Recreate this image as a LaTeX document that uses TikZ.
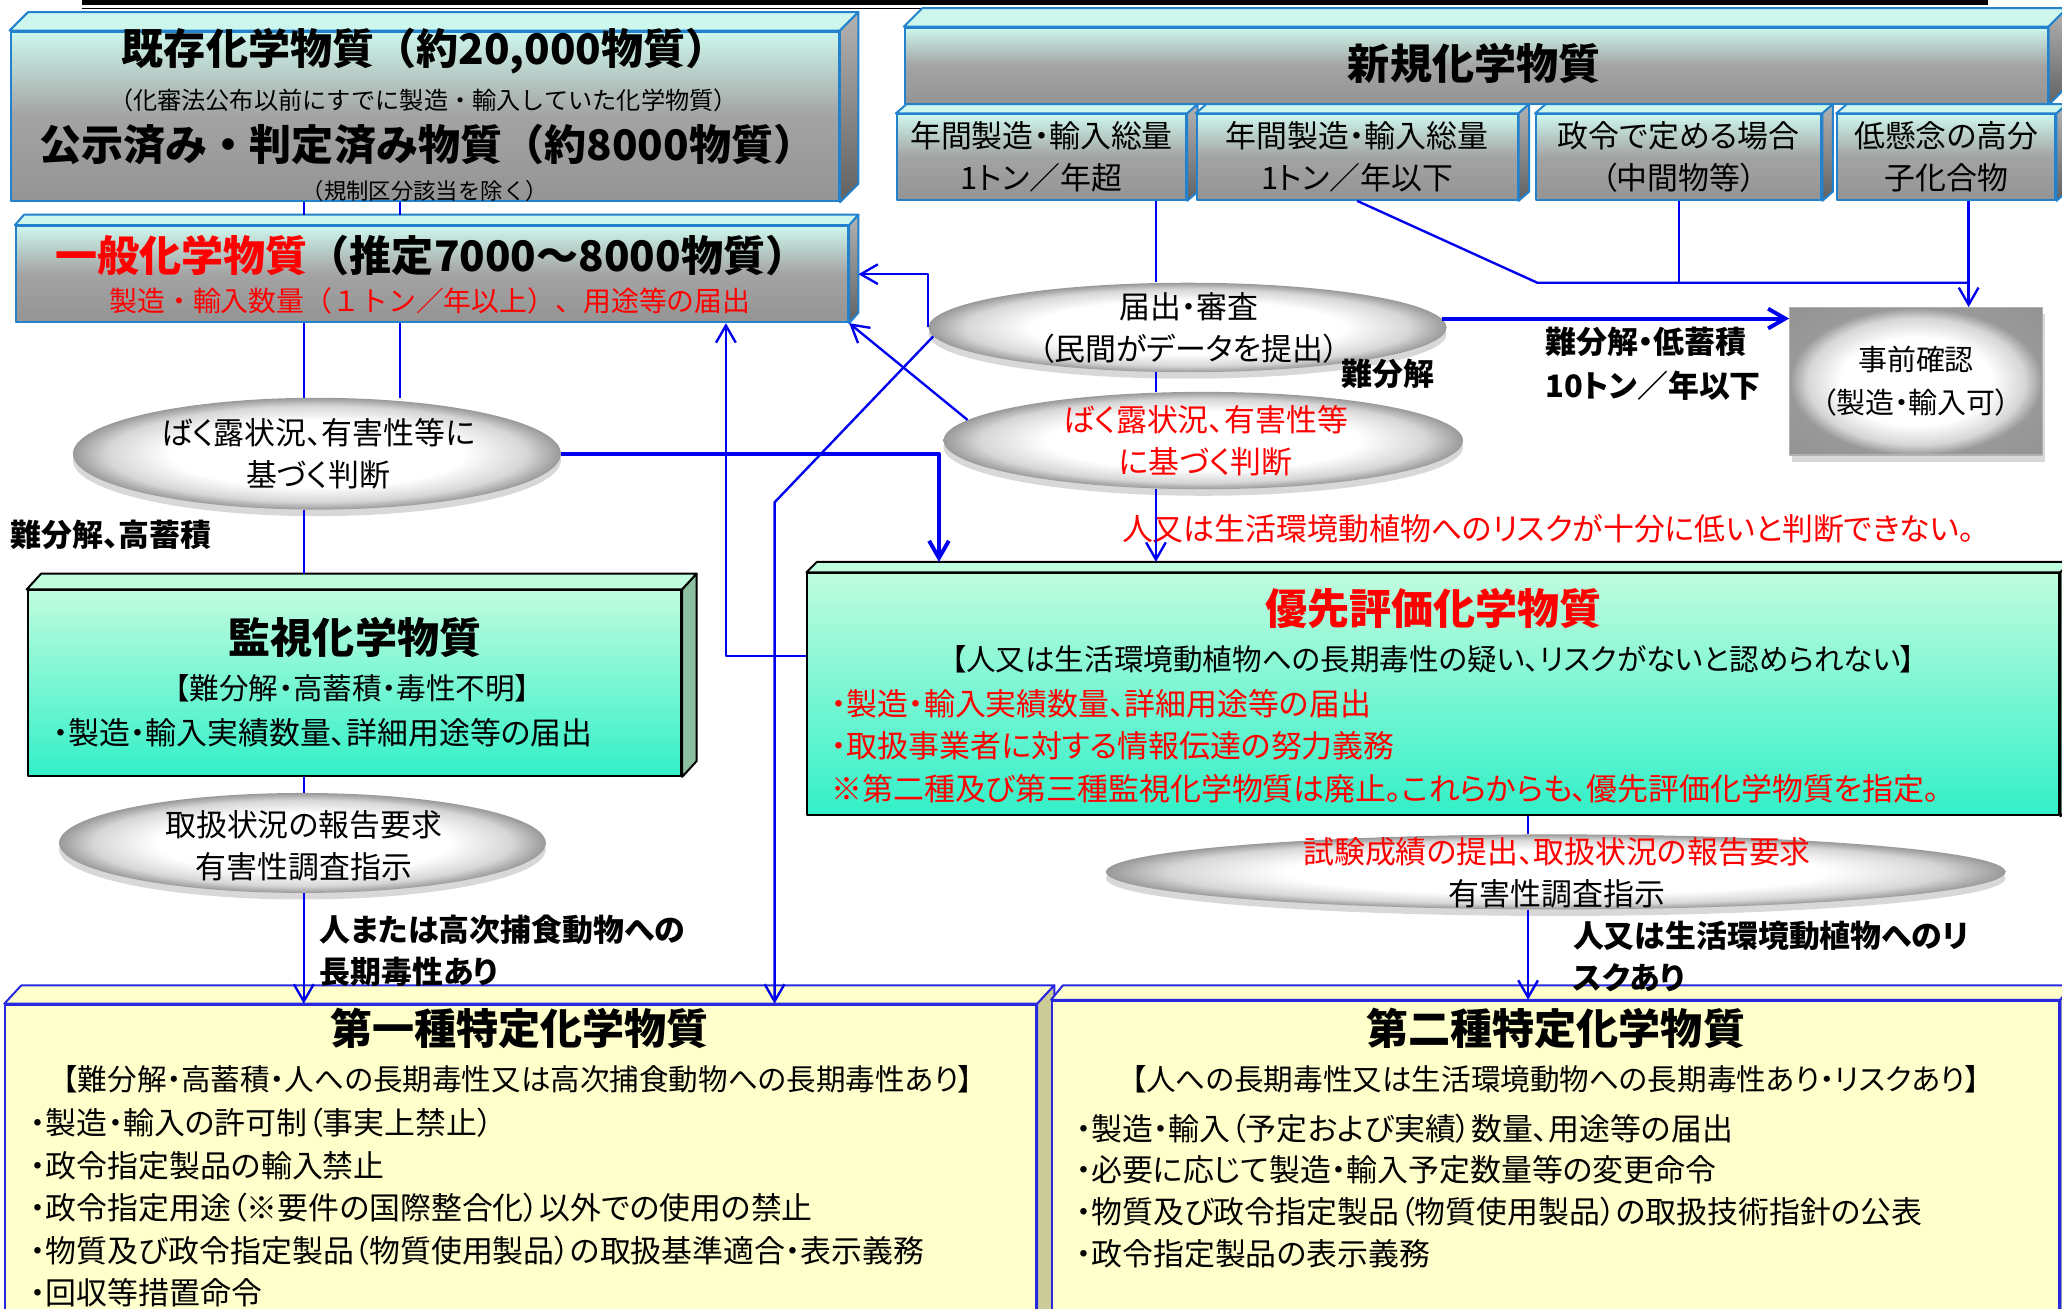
\documentclass[tikz,border=0pt]{standalone}
\usepackage{fontspec}
\setmainfont{Noto Sans CJK JP}[RawFeature=+palt]
\newfontfamily\fwfont{Noto Sans CJK JP}
\usetikzlibrary{arrows.meta,shapes.geometric,shadows}
\definecolor{boxblue}{RGB}{35,130,205}
\definecolor{linkblue}{RGB}{0,0,240}
\definecolor{mintlt}{RGB}{205,246,236}
\definecolor{greenlt}{RGB}{192,252,222}
\definecolor{greendk}{RGB}{50,240,200}
\definecolor{gside}{RGB}{140,190,160}
\definecolor{yellowlt}{RGB}{255,255,204}
\definecolor{yside}{RGB}{204,204,153}
\definecolor{yborder}{RGB}{40,40,225}
\pgfdeclareradialshading{silver}{\pgfpoint{0bp}{0bp}}{color(0bp)=(white); color(15bp)=(white);
  color(21.5bp)=(black!16); color(25bp)=(black!40); color(50bp)=(black!46)}
% top and side faces of a box node: name, dx, dy, style prefix
\newcommand{\boxfaces}[4]{%
  \filldraw[#4top] (#1.north west) -- ++(#2,#3) -- ([shift={(#2,#3)}]#1.north east) -- (#1.north east) -- cycle;
  \filldraw[#4side] (#1.north east) -- ++(#2,#3) -- ([shift={(#2,#3)}]#1.south east) -- (#1.south east) -- cycle;
  \coordinate (#1-top) at ([shift={(#2,#3)}]#1.north);}
\begin{document}
\begin{tikzpicture}[x=1pt,y=-1pt,line join=round,
  graybox/.style={draw=boxblue,line width=1.5pt,top color=mintlt,bottom color=black!42,middle color=black!36,inner sep=0},
  graytop/.style={fill=mintlt,draw=boxblue,line width=1.5pt},
  grayside/.style={top color=black!30,bottom color=black!62,draw=boxblue,line width=1.5pt},
  greenbox/.style={draw=black,line width=1.5pt,top color=greenlt,bottom color=greendk,inner sep=0},
  greentop/.style={fill=greenlt,draw=black,line width=1.5pt},
  greenside/.style={fill=gside,draw=black,line width=1.5pt},
  yelbox/.style={draw=yborder,line width=1.5pt,fill=yellowlt,inner sep=0},
  yeltop/.style={fill=yellowlt,draw=yborder,line width=1.5pt},
  yelside/.style={fill=yside,draw=yborder,line width=1.5pt},
  jizenbox/.style={draw=black!30,line width=1pt,shading=silver,inner sep=0,
    drop shadow={shadow xshift=2pt,shadow yshift=-5pt,opacity=.3}},
  bubble/.style={ellipse,inner sep=0,shading=silver,
    drop shadow={shadow xshift=0pt,shadow yshift=-5pt,opacity=.3}},
  ttl/.style={font=\fontsize{32}{38}\selectfont\bfseries,inner sep=0},
  fwttl/.style={font=\fwfont\fontsize{32}{38}\selectfont\bfseries,inner sep=0},
  txt/.style={font=\fontsize{23.5}{32}\selectfont,inner sep=0},
  brk/.style={font=\fontsize{22.5}{32}\selectfont,inner sep=0},
  lbl/.style={font=\fontsize{23.5}{32}\selectfont\bfseries,inner sep=0,anchor=west,align=left},
  link/.style={draw=linkblue,line width=1.8pt},
  arr/.style={link,-{Straight Barb[length=13pt,width=15pt]}}]
\useasboundingbox[fill=white] (0,0) rectangle (1568,995);
\fill (62,0) rectangle (1512,4);
\draw[line width=1.2pt] (62,6.5) -- (1512,6.5);

% boxes
\node[graybox,minimum width=630,minimum height=129] (kizon) at (323,88.5) {};
\boxfaces{kizon}{14}{-14}{gray}
\node[graybox,minimum width=633,minimum height=73] (ippan) at (328.5,208.5) {};
\boxfaces{ippan}{7}{-8}{gray}
\node[graybox,minimum width=869,minimum height=58] (shinki) at (1122.5,50) {};
\boxfaces{shinki}{14}{-14}{gray}
\foreach \n/\x/\w/\t in {sub1/792/220/{年間製造・輸入総量\\1トン／年超},
  sub2/1032/244/{年間製造・輸入総量\\1トン／年以下},
  sub3/1276.5/217/{政令で定める場合\\（中間物等）},
  sub4/1480/166/{低懸念の高分\\子化合物}} {
  \node[graybox,txt,align=center,minimum width=\w,minimum height=65] (\n) at (\x,119.5) {\t};
  \boxfaces{\n}{8}{-7}{gray}
}
\node[jizenbox,font=\fontsize{22}{33}\selectfont,align=center,minimum width=192,minimum height=112] (jizen) at (1457,290) {事前確認\\（製造・輸入可）};
\node[greenbox,minimum width=497,minimum height=141] (kanshi) at (269.5,519.5) {};
\boxfaces{kanshi}{11}{-12}{green}
\node[greenbox,minimum width=952,minimum height=184] (yusen) at (1090,528) {};
\boxfaces{yusen}{8}{-8}{green}
\node[yelbox,minimum width=784,minimum height=246] (daiichi) at (396,887) {};
\boxfaces{daiichi}{13}{-14}{yel}
\node[yelbox,minimum width=766,minimum height=249] (daini) at (1183,885.5) {};
\boxfaces{daini}{9}{-11}{yel}

% ellipses
\node[bubble,minimum width=394,minimum height=68] (todoke) at (903,249) {};
\node[bubble,minimum width=395,minimum height=74] (bakuro2) at (915,335) {};
\node[bubble,minimum width=371,minimum height=85] (bakuro1) at (241,345) {};
\node[bubble,minimum width=370,minimum height=76] (toriatsukai) at (230,641) {};
\node[bubble,minimum width=684,minimum height=57] (shiken) at (1183,663) {};
\node[txt,align=center] (todoke-t) at (904,249.5) {届出・審査\\（民間がデータを提出）};
\node[txt,align=center,text=red] (bakuro2-t) at (917,335) {ばく露状況、有害性等\\に基づく判断};
\node[txt,align=center] (bakuro1-t) at (242,345) {ばく露状況、有害性等に\\基づく判断};
\node[txt,align=center] (toriatsukai-t) at (231,643) {取扱状況の報告要求\\有害性調査指示};
\node[txt,align=center] (shiken-t) at (1184,663.5) {\textcolor{red}{試験成績の提出、取扱状況の報告要求}\\有害性調査指示};

% box texts
\node[fwttl] (kizon-t1) at (323,39) {既存化学物質（約20,000物質）};
\node[inner sep=0,font=\fwfont\fontsize{18.4}{22}\selectfont] (kizon-t2) at (322,76) {（化審法公布以前にすでに製造・輸入していた化学物質）};
\node[fwttl] (kizon-t3) at (325,110) {公示済み・判定済み物質（約8000物質）};
\node[inner sep=0,font=\fwfont\fontsize{17}{22}\selectfont] (kizon-t4) at (323,145) {（規制区分該当を除く）};
\node[fwttl] (ippan-t1) at (328,194) {\textcolor{red}{一般化学物質}（推定7000～8000物質）};
\node[inner sep=0,text=red,font=\fwfont\fontsize{21.2}{26}\selectfont] (ippan-t2) at (327,229) {製造・輸入数量（１トン／年以上）、用途等の届出};
\node[ttl] (shinki-t) at (1121,48) {新規化学物質};
\node[ttl] (kanshi-t1) at (270,485) {監視化学物質};
\node[brk] (kanshi-t2) at (268,523) {【難分解・高蓄積・毒性不明】};
\node[txt,anchor=west] (kanshi-t3) at (40,557) {・製造・輸入実績数量、詳細用途等の届出};
\node[ttl,text=red] (yusen-t1) at (1090,463) {優先評価化学物質};
\node[brk] (yusen-t2) at (1090,501) {【人又は生活環境動植物への長期毒性の疑い、リスクがないと認められない】};
\foreach \t [count=\i] in {・製造・輸入実績数量、詳細用途等の届出,
  ・取扱事業者に対する情報伝達の努力義務,
  ※第二種及び第三種監視化学物質は廃止。これらからも、優先評価化学物質を指定。}
  \node[txt,text=red,anchor=west] (yusen-b\i) at (632,{535+32.5*(\i-1)}) {\t};
\node[ttl] (daiichi-t1) at (395,782) {第一種特定化学物質};
\node[brk] (daiichi-t2) at (394,821) {【難分解・高蓄積・人への長期毒性又は高次捕食動物への長期毒性あり】};
\foreach \t [count=\i] in {・製造・輸入の許可制（事実上禁止）,
  ・政令指定製品の輸入禁止,
  ・政令指定用途（※要件の国際整合化）以外での使用の禁止,
  ・物質及び政令指定製品（物質使用製品）の取扱基準適合・表示義務,
  ・回収等措置命令}
  \node[txt,anchor=west] (daiichi-b\i) at (23,{854+32.3*(\i-1)}) {\t};
\node[ttl] (daini-t1) at (1183,782) {第二種特定化学物質};
\node[brk] (daini-t2) at (1183,821) {【人への長期毒性又は生活環境動物への長期毒性あり・リスクあり】};
\foreach \t [count=\i] in {・製造・輸入（予定および実績）数量、用途等の届出,
  ・必要に応じて製造・輸入予定数量等の変更命令,
  ・物質及び政令指定製品（物質使用製品）の取扱技術指針の公表,
  ・政令指定製品の表示義務}
  \node[txt,anchor=west] (daini-b\i) at (818,{858+31.7*(\i-1)}) {\t};

% labels
\node[lbl] (lbl-a) at (1175,260) {難分解・低蓄積};
\node[lbl] (lbl-b) at (1175,293) {10トン／年以下};
\node[lbl] (lbl-c) at (1020,284) {難分解};
\node[lbl] (lbl-d) at (8,407) {難分解、高蓄積};
\node[lbl] (lbl-e) at (243,723) {人または高次捕食動物への\\長期毒性あり};
\node[lbl] (lbl-f) at (1196,727.5) {人又は生活環境動植物へのリ\\スクあり};
\node[txt,text=red,anchor=west] (lbl-g) at (853,402) {人又は生活環境動植物へのリスクが十分に低いと判断できない。};

% connectors
\coordinate (xa) at (231,0);
\coordinate (xb) at (304,0);
\coordinate (xc) at (714,0);
\coordinate (xe) at (552,0);
\coordinate (ye) at (0,499);
\coordinate (xf) at (879,0);
\coordinate (xg) at (1497,0);
\coordinate (xh) at (1162,0);
\coordinate (bend1) at (589,382);
\coordinate (bend2) at (1169,215);
\draw[link] (kizon.south -| xa) -- (ippan-top -| xa);
\draw[link] (kizon.south -| xb) -- (ippan-top -| xb);
\draw[link] (ippan.south -| xa) -- (bakuro1.north -| xa);
\draw[link] (ippan.south -| xb) -- (bakuro1.north -| xb);
\draw[link] (bakuro1.south -| xa) -- (kanshi-top -| xa);
\draw[link] (kanshi.south -| xa) -- (toriatsukai.north -| xa);
\draw[arr] (toriatsukai.south -| xa) -- (daiichi.north -| xa);
\draw[arr,line width=3pt] (bakuro1.east) -| (yusen-top -| xc);
\draw[arr] (todoke.west) |- ([xshift=7pt]ippan.east);
\draw[arr] (bakuro2.175) -- (ippan.south east);
\draw[arr] (todoke.182) -- (bend1) -- (daiichi.north -| bend1);
\draw[arr] (yusen.west |- ye) -| (ippan.south -| xe);
\draw[link] (sub1.south -| xf) -- (todoke.north -| xf);
\draw[link] (todoke.south -| xf) -- (bakuro2.north -| xf);
\draw[arr] (bakuro2.south -| xf) -- (yusen-top -| xf);
\draw[arr,line width=3pt] (todoke.2) -- (todoke.2 -| jizen.west);
\draw[link] (sub2.south) -- (bend2) -- (bend2 -| xg);
\draw[link] (sub3.south) -- (sub3.south |- bend2);
\draw[arr] (sub4.south -| xg) -- (jizen.north -| xg);
\draw[link] (yusen.south -| xh) -- (shiken.north -| xh);
\draw[arr] (shiken.south -| xh) -- (daini.north -| xh);
\end{tikzpicture}
\end{document}
